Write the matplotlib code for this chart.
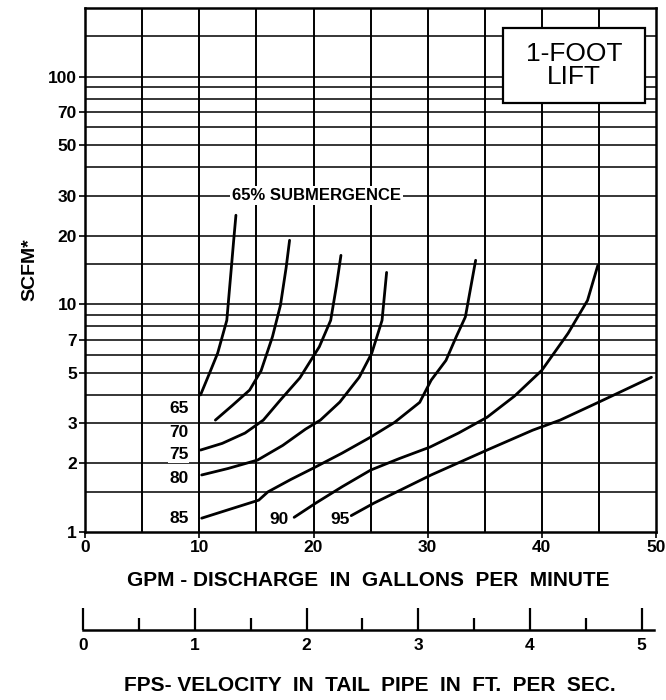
import matplotlib
matplotlib.use("Agg")
import matplotlib.pyplot as plt
from matplotlib.patches import Rectangle

plt.rcParams["font.family"] = ["Liberation Sans", "DejaVu Sans"]

# submergence curves: GPM (x) vs SCFM (y)
gpm_65 = [10.1, 10.9, 11.6, 12.4, 12.8, 13.0, 13.2]
scfm_65 = [4.0, 5.0, 6.1, 8.5, 14.5, 19.0, 24.6]

gpm_70 = [11.4, 12.9, 14.4, 15.4, 16.4, 17.1, 17.6, 17.9]
scfm_70 = [3.1, 3.6, 4.2, 5.1, 7.2, 9.9, 14.5, 19.1]

gpm_75 = [10.1, 12.0, 14.0, 15.6, 17.1, 18.8, 20.5, 21.5, 22.0, 22.4]
scfm_75 = [2.29, 2.45, 2.72, 3.1, 3.8, 4.75, 6.5, 8.5, 12.0, 16.4]

gpm_80 = [10.2, 12.5, 15.1, 17.3, 19.3, 20.6, 22.3, 24.0, 25.1, 26.0, 26.4]
scfm_80 = [1.78, 1.9, 2.07, 2.4, 2.83, 3.1, 3.72, 4.78, 6.1, 8.5, 13.8]

gpm_85 = [10.2, 12.7, 15.2, 16.0, 18.0, 20.0, 22.5, 25.0, 27.1, 29.3, 30.3, 31.6, 32.5, 33.3, 34.2]
scfm_85 = [1.15, 1.26, 1.38, 1.5, 1.7, 1.91, 2.22, 2.61, 3.03, 3.71, 4.64, 5.67, 7.2, 8.8, 15.6]

gpm_90 = [18.3, 20.2, 22.5, 25.0, 27.5, 30.2, 32.7, 35.2, 37.6, 40.0, 42.3, 44.0, 44.9]
scfm_90 = [1.16, 1.34, 1.58, 1.87, 2.1, 2.36, 2.72, 3.19, 3.95, 5.13, 7.46, 10.4, 14.8]

gpm_95 = [23.3, 25.3, 30.3, 35.2, 39.2, 41.6, 45.0, 49.6]
scfm_95 = [1.18, 1.34, 1.78, 2.29, 2.8, 3.1, 3.72, 4.78]

curve_labels = ["65", "70", "75", "80", "85", "90", "95"]
label_gpm = [8.2, 8.2, 8.2, 8.2, 8.2, 17.0, 22.3]
label_scfm = [3.5, 2.74, 2.18, 1.72, 1.15, 1.13, 1.13]

y_ticks = [1, 2, 3, 5, 7, 10, 20, 30, 50, 70, 100]
y_grid = [1.5, 2, 3, 4, 5, 6, 7, 8, 9, 10, 15, 20, 30, 40, 50, 60, 70, 80, 90, 100, 150]
x_ticks = [0, 10, 20, 30, 40, 50]
x_grid = [5, 10, 15, 20, 25, 30, 35, 40, 45]
fps_ticks = [0, 1, 2, 3, 4, 5]
fps_minor = [0.5, 1.5, 2.5, 3.5, 4.5]

fig = plt.figure(figsize=(6.66, 7.0), dpi=100)
ax = fig.add_axes([0.128, 0.24, 0.857, 0.7486])
ax.set_yscale("log")
ax.set_xlim(0, 50)
ax.set_ylim(1, 200)

for g in y_grid:
    ax.axhline(g, color="black", lw=1.1, zorder=1)
for g in x_grid:
    ax.axvline(g, color="black", lw=1.4, zorder=1)

curves = [(gpm_65, scfm_65), (gpm_70, scfm_70), (gpm_75, scfm_75), (gpm_80, scfm_80),
          (gpm_85, scfm_85), (gpm_90, scfm_90), (gpm_95, scfm_95)]
for xs, ys in curves:
    ax.plot(xs, ys, color="black", lw=2.0, solid_capstyle="round", zorder=3)

for lab, lx, ly in zip(curve_labels, label_gpm, label_scfm):
    ax.text(lx, ly, lab, ha="center", va="center", fontsize=12.5, fontweight="bold",
            bbox=dict(fc="white", ec="none", pad=0.5), zorder=4)

ax.text(20.3, 30, "65% SUBMERGENCE", ha="center", va="center", fontsize=12,
        fontweight="bold", bbox=dict(fc="white", ec="none", pad=1.5), zorder=4)

# title box
ax.add_patch(Rectangle((0.732, 0.819), 0.249, 0.143, transform=ax.transAxes,
                       fc="white", ec="black", lw=1.6, zorder=5))
ax.text(0.8565, 0.89, "1-FOOT\nLIFT", transform=ax.transAxes, ha="center", va="center",
        fontsize=19, linespacing=0.95, zorder=6)

ax.set_yticks(y_ticks)
ax.set_yticklabels([str(t) for t in y_ticks])
ax.yaxis.set_minor_locator(matplotlib.ticker.NullLocator())
ax.set_xticks(x_ticks)
ax.set_xticklabels([str(t) for t in x_ticks])
ax.tick_params(axis="both", length=4, width=1.2, labelsize=12.5, pad=2)
for lbl in ax.get_xticklabels() + ax.get_yticklabels():
    lbl.set_fontweight("bold")
for sp in ax.spines.values():
    sp.set_linewidth(1.8)

ax.set_ylabel("SCFM*", fontsize=14, fontweight="bold", labelpad=7)
fig.text(0.553, 0.171, "GPM - DISCHARGE  IN  GALLONS  PER  MINUTE", ha="center", va="center",
         fontsize=15, fontweight="bold")

# velocity scale below
ax2 = fig.add_axes([0.1246, 0.1, 0.857, 0.0001])
ax2.set_xlim(0, 5.107)
ax2.set_ylim(0, 1)
for side in ["top", "left", "right"]:
    ax2.spines[side].set_visible(False)
ax2.spines["bottom"].set_linewidth(1.8)
ax2.set_yticks([])
ax2.set_xticks(fps_ticks)
ax2.set_xticks(fps_minor, minor=True)
ax2.set_xticklabels([str(t) for t in fps_ticks], fontsize=12.5, fontweight="bold")
ax2.tick_params(axis="x", which="major", direction="in", length=16, width=1.6, pad=6)
ax2.tick_params(axis="x", which="minor", direction="in", length=9, width=1.6)
fig.text(0.555, 0.021, "FPS- VELOCITY  IN  TAIL  PIPE  IN  FT.  PER  SEC.", ha="center",
         va="center", fontsize=15, fontweight="bold")

fig.savefig("out.png", dpi=100)
